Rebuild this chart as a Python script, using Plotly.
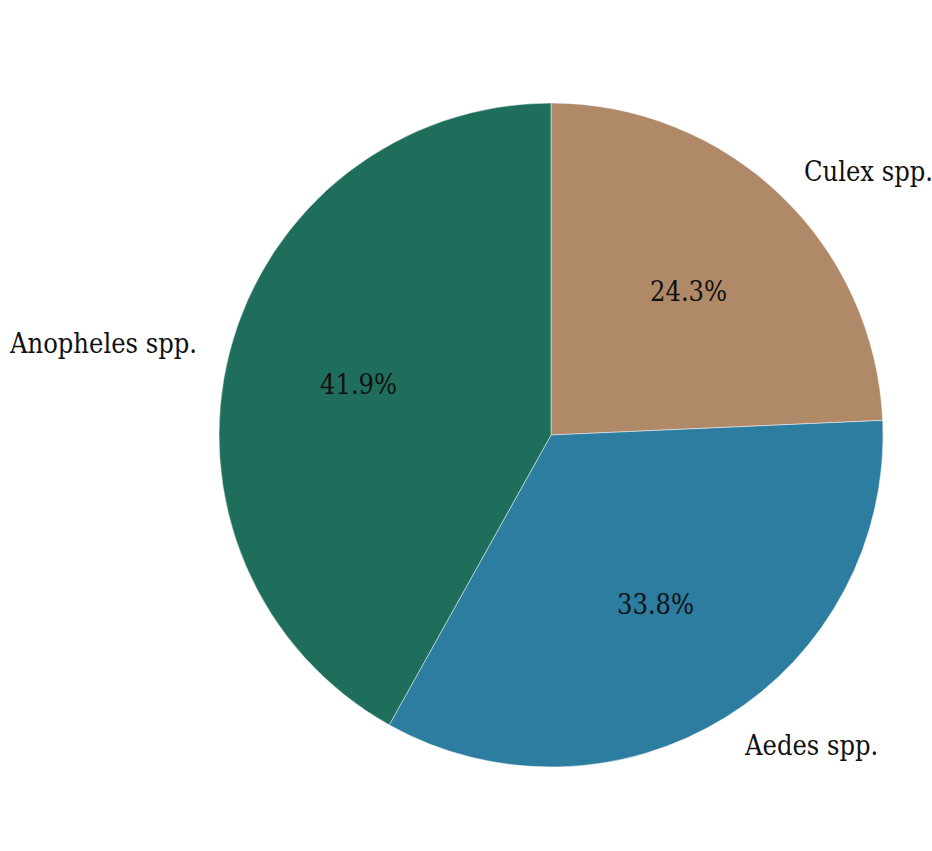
import math
import plotly.graph_objects as go

labels = ["Culex spp.", "Aedes spp.", "Anopheles spp."]
values = [24.3, 33.8, 41.9]
colors = ["#B08968", "#2C7DA0", "#1F6E5B"]

W, H = 932, 851
cx_px, cy_px = 551, 435   # pie centre (pixels from top-left)
r_px = 332

dom_x = [(cx_px - r_px) / W, (cx_px + r_px) / W]
dom_y = [(H - cy_px - r_px) / H, (H - cy_px + r_px) / H]

font = dict(family="DejaVu Serif Condensed, DejaVu Serif, serif", size=27, color="#111111")

fig = go.Figure(go.Pie(
    labels=labels,
    values=values,
    marker=dict(colors=colors, line=dict(color="rgba(255,255,255,0.6)", width=0.8)),
    sort=False,
    direction="clockwise",
    rotation=0,
    textinfo="none",
    hoverinfo="label+percent",
    showlegend=False,
    domain=dict(x=dom_x, y=dom_y),
))

annotations = []
total = sum(values)
start = 0.0
for lab, v in zip(labels, values):
    frac = v / total
    mid = (start + frac / 2) * 2 * math.pi
    start += frac
    s, c = math.sin(mid), math.cos(mid)
    # percentage at 0.6 radius
    px = (cx_px + 0.6 * r_px * s) / W
    py = (H - cy_px + 0.6 * r_px * c) / H
    annotations.append(dict(x=px, y=py, xref="paper", yref="paper",
                            text=f"{v:.1f}%", showarrow=False,
                            xanchor="center", yanchor="middle",
                            borderpad=0, font=font))
    # label at 1.1 radius
    lx = (cx_px + 1.1 * r_px * s) / W
    ly = (H - cy_px + 1.1 * r_px * c) / H
    annotations.append(dict(x=lx, y=ly, xref="paper", yref="paper",
                            text=lab, showarrow=False,
                            xanchor="left" if s > 0 else "right", yanchor="middle",
                            borderpad=0, font=font))

fig.update_layout(
    width=W, height=H,
    margin=dict(l=0, r=0, t=0, b=0),
    paper_bgcolor="white",
    plot_bgcolor="white",
    annotations=annotations,
)

fig.write_html("out.html",
               config={"displayModeBar": False},
               post_script="document.body.style.margin='0px';document.body.style.overflow='hidden';")
